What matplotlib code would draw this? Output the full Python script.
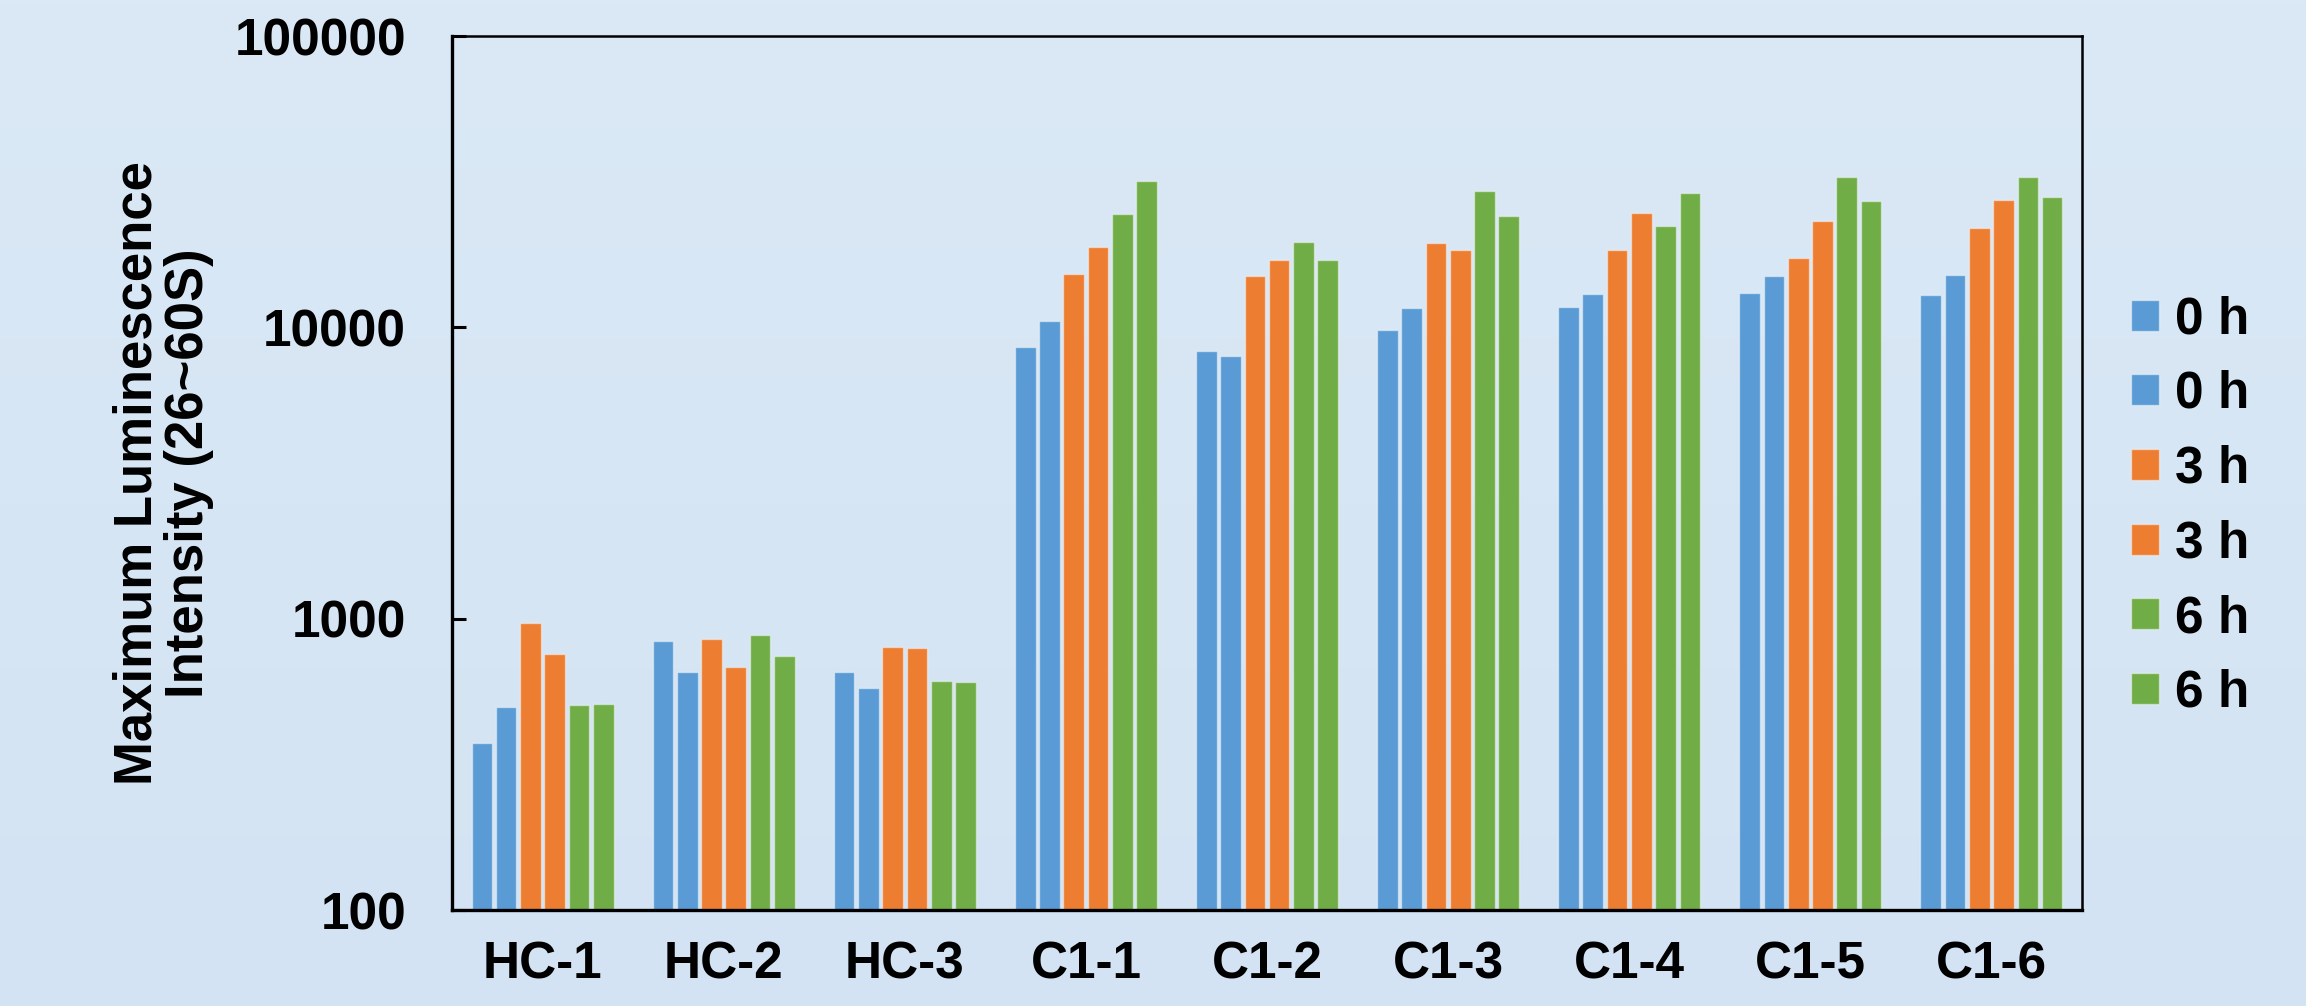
import numpy as np
import matplotlib
matplotlib.use("Agg")
import matplotlib.pyplot as plt

categories = ["HC-1", "HC-2", "HC-3", "C1-1", "C1-2", "C1-3", "C1-4", "C1-5", "C1-6"]
series_labels = ["0 h", "0 h", "3 h", "3 h", "6 h", "6 h"]
series_colors = ["#5B9BD5", "#5B9BD5", "#ED7D31", "#ED7D31", "#70AD47", "#70AD47"]

s1 = [373, 836, 656, 8550, 8280, 9820, 11720, 13090, 12950]
s2 = [499, 656, 578, 10500, 7970, 11660, 12990, 14970, 15100]
s3 = [969, 850, 800, 15270, 14950, 19440, 18440, 17270, 21880]
s4 = [757, 681, 793, 18800, 16980, 18390, 24760, 23190, 27310]
s5 = [507, 879, 611, 24500, 19680, 29460, 22230, 32900, 32900]
s6 = [509, 746, 605, 31800, 16980, 24060, 28870, 27230, 28050]
series = [s1, s2, s3, s4, s5, s6]

ytick_vals = [100, 1000, 10000, 100000]
ytick_labels = ["100", "1000", "10000", "100000"]
ylabel = "Maximum Luminescence\nIntensity (26~60S)"

plt.rcParams['font.family'] = ['Liberation Sans', 'DejaVu Sans']
plt.rcParams['font.weight'] = 'bold'

W, H = 2306, 1006
fig = plt.figure(figsize=(W / 100, H / 100), dpi=100)

# background gradient
bg = fig.add_axes([0, 0, 1, 1], zorder=-10)
grad = np.linspace(0, 1, 256).reshape(-1, 1)
top = np.array([219, 233, 246]) / 255
bot = np.array([211, 227, 243]) / 255
img = top[None, None, :] * (1 - grad[:, :, None]) + bot[None, None, :] * grad[:, :, None]
bg.imshow(img, aspect='auto', extent=[0, 1, 0, 1])
bg.set_axis_off()

left, right, bottom, topf = 452 / W, 2082 / W, 1 - 910 / H, 1 - 36 / H
ax = fig.add_axes([left, bottom, right - left, topf - bottom])
ax.set_facecolor('none')

x = np.arange(len(categories))
pitch = 0.134
width = 0.114
for i, (vals, lab, col) in enumerate(zip(series, series_labels, series_colors)):
    ax.bar(x + (i - 2.5) * pitch, vals, width=width, color=col, label=lab,
           edgecolor=(1, 1, 1, 0.45), linewidth=1.0)

ax.set_yscale('log')
ax.set_ylim(100, 100000)
ax.set_xlim(-0.5, len(categories) - 0.5)
ax.set_yticks(ytick_vals)
ax.set_yticklabels(ytick_labels)
ax.minorticks_off()
ax.yaxis.set_minor_locator(matplotlib.ticker.NullLocator())
ax.set_xticks(x)
ax.set_xticklabels(categories)

ax.tick_params(axis='y', direction='in', length=10, width=2.2, labelsize=37, pad=33)
ax.tick_params(axis='x', length=0, labelsize=37, pad=22)
for lbl in ax.get_xticklabels() + ax.get_yticklabels():
    lbl.set_fontweight('bold')

for side in ['left', 'bottom']:
    ax.spines[side].set_linewidth(2.4)
for side in ['top', 'right']:
    ax.spines[side].set_linewidth(1.8)

fig.text(163 / W, 0.5 * (bottom + topf), ylabel, rotation=90, ha='center', va='center',
         fontsize=38, fontweight='bold', linespacing=1.03)

leg = fig.legend(loc='center left', bbox_to_anchor=(2131 / W, 1 - 506.5 / H),
                 frameon=False, fontsize=37, handlelength=0.55, handleheight=0.55,
                 handletextpad=0.3, labelspacing=0.5, borderpad=0, borderaxespad=0)
for t in leg.get_texts():
    t.set_fontweight('bold')

fig.savefig("out.png", dpi=100)
